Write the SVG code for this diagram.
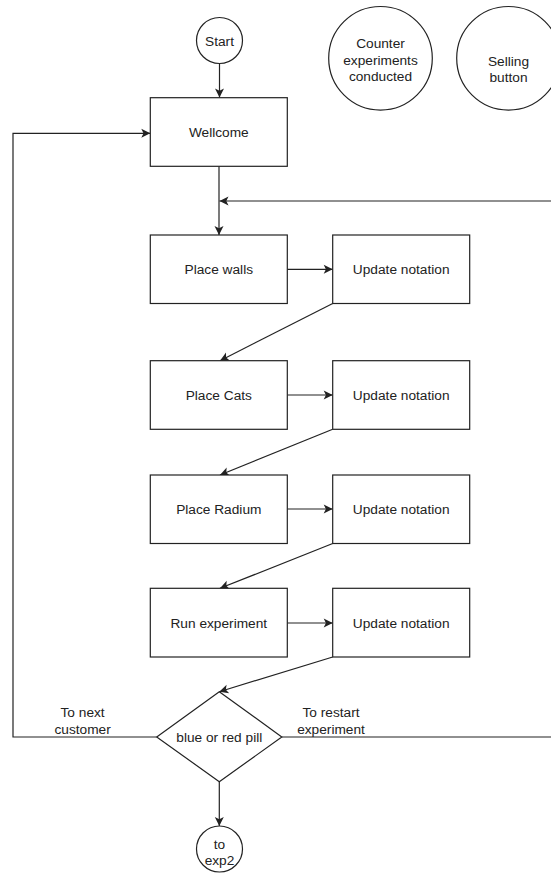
<svg xmlns="http://www.w3.org/2000/svg" width="551" height="873" viewBox="0 0 551 873">
<style>
.n{fill:#fff;stroke:#222;stroke-width:1.2}
.t{font-family:"Liberation Sans",Arial,sans-serif;font-size:13.7px;fill:#222;text-anchor:middle}
.c{fill:none;stroke:#222;stroke-width:1.2}
</style>
<defs>
<marker id="a" markerUnits="userSpaceOnUse" markerWidth="12" markerHeight="12" viewBox="0 0 12 12" refX="10" refY="6" orient="auto">
<path d="M1,1.5 L10,6 L1,10.5 L3.2,6 Z" fill="#222"/>
</marker>
</defs>
<rect width="551" height="873" fill="#fff"/>
<g id="connectors">
<path class="c" d="M219.5,63.5 V97.5" marker-end="url(#a)"/>
<path class="c" d="M219,166.3 V235" marker-end="url(#a)"/>
<path class="c" d="M556,201 H219.5" marker-end="url(#a)"/>
<path class="c" d="M287.3,269.3 H332.7" marker-end="url(#a)"/>
<path class="c" d="M287.3,395 H332.7" marker-end="url(#a)"/>
<path class="c" d="M287.3,509 H332.7" marker-end="url(#a)"/>
<path class="c" d="M287.3,623 H332.7" marker-end="url(#a)"/>
<path class="c" d="M332.7,303.5 L220,360.7" marker-end="url(#a)"/>
<path class="c" d="M332.7,429.3 L220,475" marker-end="url(#a)"/>
<path class="c" d="M332.7,543.5 L220,588.3" marker-end="url(#a)"/>
<path class="c" d="M332.7,657 L219.3,691.7" marker-end="url(#a)"/>
<path class="c" d="M156.7,737 H13 V133.3 H150.3" marker-end="url(#a)"/>
<path class="c" d="M281.8,737 H556 V201"/>
<path class="c" d="M219.3,781.7 V826" marker-end="url(#a)"/>
<text class="t" x="82.6" y="717">To next</text>
<text class="t" x="82.6" y="734">customer</text>
<text class="t" x="331" y="717">To restart</text>
<text class="t" x="331" y="734">experiment</text>
</g>
<g id="start"><circle class="n" cx="219.5" cy="40.5" r="23"/><text class="t" x="219.5" y="45.5">Start</text></g>
<g id="counter"><circle class="n" cx="380.5" cy="58.3" r="51.8"/><text class="t" x="380.5" y="48.3">Counter</text><text class="t" x="380.5" y="64.5">experiments</text><text class="t" x="380.5" y="80.7">conducted</text></g>
<g id="selling"><circle class="n" cx="508.5" cy="58.3" r="51.8"/><text class="t" x="508.5" y="66">Selling</text><text class="t" x="508.5" y="82">button</text></g>
<g id="wellcome"><rect class="n" x="150.3" y="97.7" width="137" height="68.6"/><text class="t" x="218.8" y="136.8">Wellcome</text></g>
<g id="place-walls"><rect class="n" x="150.3" y="235" width="137" height="68.5"/><text class="t" x="218.8" y="274">Place walls</text></g>
<g id="update1"><rect class="n" x="332.7" y="235" width="137" height="68.5"/><text class="t" x="401.2" y="274">Update notation</text></g>
<g id="place-cats"><rect class="n" x="150.3" y="360.7" width="137" height="68.6"/><text class="t" x="218.8" y="399.8">Place Cats</text></g>
<g id="update2"><rect class="n" x="332.7" y="360.7" width="137" height="68.6"/><text class="t" x="401.2" y="399.8">Update notation</text></g>
<g id="place-radium"><rect class="n" x="150.3" y="475" width="137" height="68.5"/><text class="t" x="218.8" y="514">Place Radium</text></g>
<g id="update3"><rect class="n" x="332.7" y="475" width="137" height="68.5"/><text class="t" x="401.2" y="514">Update notation</text></g>
<g id="run-experiment"><rect class="n" x="150.3" y="588.3" width="137" height="68.7"/><text class="t" x="218.8" y="627.5">Run experiment</text></g>
<g id="update4"><rect class="n" x="332.7" y="588.3" width="137" height="68.7"/><text class="t" x="401.2" y="627.5">Update notation</text></g>
<g id="decision"><polygon class="n" points="219.3,691.7 281.8,737 219.3,781.7 156.7,737"/><text class="t" x="219.3" y="742">blue or red pill</text></g>
<g id="to-exp2"><circle class="n" cx="219.5" cy="849" r="23"/><text class="t" x="219.5" y="848.5">to</text><text class="t" x="219.5" y="865">exp2</text></g>
</svg>
